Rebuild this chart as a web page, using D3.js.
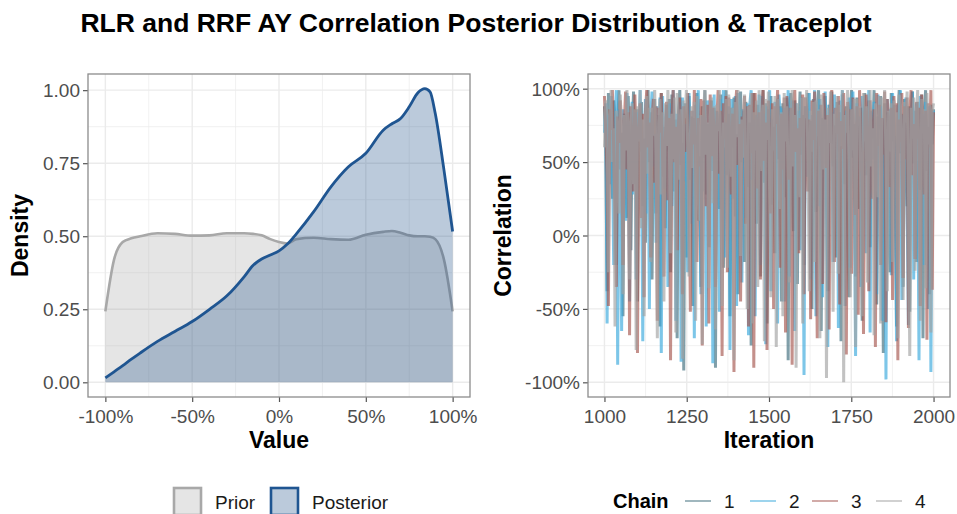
<!DOCTYPE html>
<html>
<head>
<meta charset="utf-8">
<script src="https://cdn.jsdelivr.net/npm/d3@7"></script>
<style>
  html, body { margin: 0; padding: 0; background: #fff; }
  svg { display: block; font-family: "Liberation Sans", Arial, Helvetica, sans-serif; }
</style>
</head>
<body>
<svg id="chart" width="957" height="514"></svg>
<script>
// ---------------- DATA ----------------
const titleText = "RLR and RRF AY Correlation Posterior Distribution & Traceplot";

// density curves (x in correlation units, y density)
const densityX = [-1.0,-0.95,-0.9,-0.85,-0.8,-0.7,-0.6,-0.5,-0.4,-0.3,-0.2,-0.15,-0.1,-0.05,0.0,0.05,0.1,0.2,0.3,0.4,0.5,0.6,0.65,0.7,0.75,0.8,0.84,0.87,0.9,0.95,1.0];
const priorY =   [0.243,0.42,0.48,0.493,0.50,0.51,0.508,0.502,0.503,0.51,0.51,0.508,0.503,0.49,0.48,0.475,0.49,0.495,0.49,0.488,0.505,0.515,0.518,0.512,0.503,0.50,0.50,0.498,0.49,0.42,0.243];
const posteriorY=[0.015,0.036,0.057,0.079,0.10,0.14,0.174,0.208,0.25,0.296,0.362,0.40,0.422,0.436,0.45,0.474,0.508,0.584,0.67,0.738,0.784,0.863,0.885,0.903,0.943,0.991,1.005,0.994,0.92,0.727,0.516];

const densityXTicks = [-1,-0.5,0,0.5,1];
const densityXTickLabels = ["-100%","-50%","0%","50%","100%"];
const densityYTicks = [0,0.25,0.5,0.75,1];
const densityYTickLabels = ["0.00","0.25","0.50","0.75","1.00"];

// traceplot chains (correlation in %, iterations 1000..2000 evenly spaced)
const chain1 = [
88,62,-38,97,74,60,25,92,81,-20,75,99,45,70,-55,83,68,12,95,58,-10,70,98,35,86,
-45,86,57,91,20,66,-5,78,99,50,84,-30,65,93,15,72,82,-62,97,40,74,5,89,58,93,
-25,96,66,30,79,-70,84,99,48,63,-92,90,-15,72,95,38,81,-48,80,62,97,10,54,-35,88,
53,99,28,76,-8,76,92,44,87,-90,85,67,18,96,52,-22,70,99,41,83,-55,87,60,94,13,
69,-40,79,98,50,85,-18,91,65,33,77,-75,83,97,46,8,89,61,-28,73,99,36,90,-60,86,
58,95,21,74,-12,77,93,52,88,-45,90,68,26,94,-85,84,97,40,3,92,71,-33,71,98,55,
82,-20,88,64,97,30,78,-50,93,59,16,86,99,44,-65,80,72,95,22,-38,89,63,98,47,75,
-15,91,57,84,-72,96,69,35,88,10,-42,82,99,53,76,-28,94,61,18,87,-58,79,97,41,70,
92,-8,85,66,99,27,-47,81,73,95,38,-80,90,58,84,12,-25,97,64,89,45,-62,78,99,56,
83,-35,93,70,20,88,-52,76,98,49,85,-18,91,67,31,96,-70,82,99,44,74,-40,89,62,86];
const chain2 = [
70,90,-60,82,35,95,55,-20,78,99,-88,86,40,-65,86,62,10,97,74,-45,73,91,28,84,-30,
84,66,99,52,-72,58,93,15,80,-50,80,98,47,69,-5,88,61,94,-80,95,32,74,87,-35,90,
68,20,99,77,-58,83,52,91,-86,94,37,76,62,-25,97,63,8,85,-70,89,56,99,41,-40,81,
30,92,-62,92,71,45,86,-87,96,18,84,67,-52,93,60,99,-15,77,42,88,-78,93,25,67,95,
-48,97,54,81,-32,86,74,12,90,-68,90,99,38,79,-55,82,64,96,-20,95,47,83,-74,88,70,
99,-38,79,58,91,23,-60,96,83,35,87,-45,87,68,99,-28,75,92,55,-65,90,50,85,-10,94,
61,-95,88,72,40,97,-30,82,60,99,-55,86,20,93,68,-42,77,98,51,-76,89,64,84,-18,96,
45,80,-63,92,70,99,33,-48,85,57,94,-22,79,98,43,-82,90,66,81,-35,95,58,87,-12,73,
99,-66,84,52,91,28,-40,96,75,88,-58,80,62,-98,93,47,86,-27,97,70,35,-72,89,60,99,
-44,82,56,94,18,-61,87,73,98,-30,79,90,48,-85,95,64,83,-20,91,69,-50,88,-93,76,85];
const chain3 = [
95,70,40,-48,86,72,99,58,18,-35,81,63,92,75,-20,77,98,45,84,-68,88,55,30,96,66,
-80,73,90,12,83,-42,84,99,60,77,-15,79,93,36,88,-58,87,70,97,52,-28,65,91,24,80,
-85,82,99,50,74,-10,76,94,63,-40,88,57,71,97,33,-52,85,62,99,46,-18,80,47,93,-75,
92,68,20,89,-60,96,54,87,70,-35,78,99,42,85,-82,90,66,95,-25,94,58,28,83,-93,86,
99,48,76,-45,81,73,95,8,88,-62,89,56,97,-90,97,69,32,84,-30,84,99,51,77,-78,92,
63,15,90,-50,88,76,99,60,-22,83,45,94,-66,95,70,38,87,-88,91,99,57,73,-12,80,67,
96,-40,94,86,30,79,-57,92,65,98,24,-70,85,61,89,-33,97,74,46,82,-64,90,99,55,-18,
87,69,95,-47,78,59,97,36,-81,91,72,86,-26,94,63,14,88,-54,99,77,42,-67,83,96,58,
-38,92,70,25,86,-76,97,61,89,-20,80,55,98,-59,93,74,33,87,-44,95,68,90,-85,79,64,
97,-29,88,52,94,-63,82,99,41,76,-16,91,66,87,-48,96,73,28,85,-71,90,60,99,-37,84];
const chain4 = [
60,92,81,-25,78,99,50,73,-62,85,70,15,96,64,-40,82,58,99,77,-30,74,90,35,86,-78,
88,64,99,5,79,-55,80,95,42,87,-18,87,68,99,55,-70,76,93,28,84,-45,90,61,99,72,
-12,83,52,94,-66,97,73,38,86,-84,92,80,99,60,-28,69,88,46,91,-58,95,63,10,82,-74,
86,99,55,77,-36,81,94,22,88,-64,89,71,99,50,-48,77,60,93,-22,96,84,40,87,-85,91,
67,99,74,-14,79,53,96,30,-50,88,70,97,-60,84,58,92,-35,99,76,44,89,-72,93,65,98,
27,-42,86,58,95,-76,93,75,18,84,-55,97,64,88,39,-32,81,99,47,82,-90,90,72,26,94,
-60,94,80,99,52,-38,85,57,91,-18,92,68,86,-70,96,88,45,79,-97,87,63,98,34,-52,83,
70,95,-26,89,61,99,-100,82,70,99,48,-42,86,58,93,-76,93,75,88,18,-55,97,64,88,-32,
81,99,47,73,-68,90,72,26,95,-60,94,80,99,56,-38,85,57,90,-18,92,68,84,-70,96,88,
63,-44,91,77,98,35,-82,87,66,94,-24,80,99,52,-58,93,71,86,-36,97,62,89,-66,84,90];
const chainNames = ["1","2","3","4"];
const iterStart = 1000, iterEnd = 2000;

const traceXTicks = [1000,1250,1500,1750,2000];
const traceYTicks = [-1,-0.5,0,0.5,1];
const traceYTickLabels = ["-100%","-50%","0%","50%","100%"];

const densityLegendLabels = ["Prior","Posterior"];

// ---------------- STYLE ----------------
const gridColor = "#ebebeb";
const borderColor = "#8c8c8c";
const tickTextColor = "#4d4d4d";
const priorFill = "#a0a0a0", priorFillOpacity = 0.27, priorStroke = "#a8a8a8";
const postFill = "#1f4e87", postFillOpacity = 0.3, postStroke = "#1f5591";
const chainColors = ["#3f6e7c","#3aa8dc","#a5574f","#a3a3a3"];
const chainOpacity = 0.66;

const svg = d3.select("#chart");

svg.append("text")
  .attr("x", 476).attr("y", 32)
  .attr("text-anchor","middle")
  .attr("font-weight","bold")
  .attr("font-size", 26.5)
  .attr("fill","#000")
  .text(titleText);

function panel(x0, x1, y0, y1) {
  return {x0, x1, y0, y1};
}

function drawGrid(g, p, xs, ys, xMajor, xMinor, yMajor, yMinor) {
  g.append("rect").attr("x",p.x0).attr("y",p.y0).attr("width",p.x1-p.x0).attr("height",p.y1-p.y0).attr("fill","#fff");
  xMinor.forEach(v => g.append("line").attr("x1",xs(v)).attr("x2",xs(v)).attr("y1",p.y0).attr("y2",p.y1).attr("stroke",gridColor).attr("stroke-width",0.7));
  yMinor.forEach(v => g.append("line").attr("y1",ys(v)).attr("y2",ys(v)).attr("x1",p.x0).attr("x2",p.x1).attr("stroke",gridColor).attr("stroke-width",0.7));
  xMajor.forEach(v => g.append("line").attr("x1",xs(v)).attr("x2",xs(v)).attr("y1",p.y0).attr("y2",p.y1).attr("stroke",gridColor).attr("stroke-width",1.4));
  yMajor.forEach(v => g.append("line").attr("y1",ys(v)).attr("y2",ys(v)).attr("x1",p.x0).attr("x2",p.x1).attr("stroke",gridColor).attr("stroke-width",1.4));
}

function drawAxes(g, p, xs, ys, xTicks, xLabels, yTicks, yLabels) {
  const xa = d3.axisBottom(xs).tickValues(xTicks).tickFormat((d,i)=>xLabels[i]).tickSize(5).tickPadding(3);
  const ya = d3.axisLeft(ys).tickValues(yTicks).tickFormat((d,i)=>yLabels[i]).tickSize(5).tickPadding(3);
  const gx = g.append("g").attr("transform",`translate(0,${p.y1})`).call(xa);
  const gy = g.append("g").attr("transform",`translate(${p.x0},0)`).call(ya);
  [gx,gy].forEach(a => {
    a.select(".domain").remove();
    a.selectAll(".tick line").attr("stroke","#555").attr("stroke-width",1.2);
    a.selectAll(".tick text").attr("fill",tickTextColor).attr("font-size",19)
      .attr("font-family","'Liberation Sans', Arial, sans-serif");
  });
  gx.selectAll(".tick text").attr("dy","0.95em");
  gy.selectAll(".tick text").attr("dy","0.35em");
  g.append("rect").attr("x",p.x0).attr("y",p.y0).attr("width",p.x1-p.x0).attr("height",p.y1-p.y0)
    .attr("fill","none").attr("stroke",borderColor).attr("stroke-width",1.3);
}

// ---------- Left: density ----------
const pL = panel(88, 470, 74, 397);
const xL = d3.scaleLinear().domain([-1.1,1.1]).range([pL.x0,pL.x1]);
const yL = d3.scaleLinear().domain([-0.0503,1.0553]).range([pL.y1,pL.y0]);
const gL = svg.append("g");
drawGrid(gL, pL, xL, yL, densityXTicks, [-0.75,-0.25,0.25,0.75], densityYTicks, [0.125,0.375,0.625,0.875]);

const priorData = densityX.map((x,i)=>({x, y: priorY[i]}));
const postData = densityX.map((x,i)=>({x, y: posteriorY[i]}));
const area = d3.area().x(d=>xL(d.x)).y0(yL(0)).y1(d=>yL(d.y)).curve(d3.curveMonotoneX);
const line = d3.line().x(d=>xL(d.x)).y(d=>yL(d.y)).curve(d3.curveMonotoneX);

gL.append("path").datum(priorData).attr("d",area).attr("fill",priorFill).attr("fill-opacity",priorFillOpacity);
gL.append("path").datum(priorData).attr("d",line).attr("fill","none").attr("stroke",priorStroke).attr("stroke-width",2.6);
gL.append("path").datum(postData).attr("d",area).attr("fill",postFill).attr("fill-opacity",postFillOpacity);
gL.append("path").datum(postData).attr("d",line).attr("fill","none").attr("stroke",postStroke).attr("stroke-width",2.8);

drawAxes(gL, pL, xL, yL, densityXTicks, densityXTickLabels, densityYTicks, densityYTickLabels);

gL.append("text").attr("x",(pL.x0+pL.x1)/2).attr("y",448).attr("text-anchor","middle")
  .attr("font-weight","bold").attr("font-size",23).text("Value");
gL.append("text").attr("transform",`translate(28,${(pL.y0+pL.y1)/2}) rotate(-90)`).attr("text-anchor","middle")
  .attr("font-weight","bold").attr("font-size",23).text("Density");

// ---------- Right: trace ----------
const pR = panel(588, 950, 74, 397);
const xR = d3.scaleLinear().domain([950,2050]).range([pR.x0,pR.x1]);
const yR = d3.scaleLinear().domain([-1.1,1.1]).range([pR.y1,pR.y0]);
const gR = svg.append("g");
drawGrid(gR, pR, xR, yR, traceXTicks, [1125,1375,1625,1875], traceYTicks, [-0.75,-0.25,0.25,0.75]);

const chains = [chain1, chain2, chain3, chain4];
const tline = d3.line().x(d=>xR(d.it)).y(d=>yR(d.v));
chains.forEach((c,ci) => {
  const n = c.length;
  const pts = c.map((v,i)=>({it: iterStart + i*(iterEnd-iterStart)/(n-1), v: v/100}));
  gR.append("path").datum(pts).attr("d",tline).attr("fill","none")
    .attr("stroke",chainColors[ci]).attr("stroke-opacity",chainOpacity).attr("stroke-width",3)
    .attr("stroke-linejoin","bevel");
});

drawAxes(gR, pR, xR, yR, traceXTicks, traceXTicks.map(String), traceYTicks, traceYTickLabels);

gR.append("text").attr("x",(pR.x0+pR.x1)/2).attr("y",448).attr("text-anchor","middle")
  .attr("font-weight","bold").attr("font-size",23).text("Iteration");
gR.append("text").attr("transform",`translate(511,${(pR.y0+pR.y1)/2}) rotate(-90)`).attr("text-anchor","middle")
  .attr("font-weight","bold").attr("font-size",23).text("Correlation");

// ---------- Legends ----------
const lg = svg.append("g");
const legFills = [[priorFill, priorFillOpacity, priorStroke],[postFill, postFillOpacity, postStroke]];
const legX = [174, 271];
densityLegendLabels.forEach((lab,i) => {
  lg.append("rect").attr("x",legX[i]).attr("y",488).attr("width",27).attr("height",27)
    .attr("fill",legFills[i][0]).attr("fill-opacity",legFills[i][1])
    .attr("stroke",legFills[i][2]).attr("stroke-width",2.6);
  lg.append("text").attr("x",legX[i]+41).attr("y",509).attr("font-size",19).attr("fill","#1a1a1a").text(lab);
});

lg.append("text").attr("x",613).attr("y",508).attr("font-size",20).attr("font-weight","bold").text("Chain");
const chainLegX = [685, 750, 812, 876];
chainNames.forEach((nm,i) => {
  lg.append("line").attr("x1",chainLegX[i]).attr("x2",chainLegX[i]+26).attr("y1",501).attr("y2",501)
    .attr("stroke",chainColors[i]).attr("stroke-opacity",chainOpacity).attr("stroke-width",1.5);
  lg.append("text").attr("x",chainLegX[i]+39).attr("y",508).attr("font-size",19).attr("fill","#1a1a1a").text(nm);
});
</script>
</body>
</html>
